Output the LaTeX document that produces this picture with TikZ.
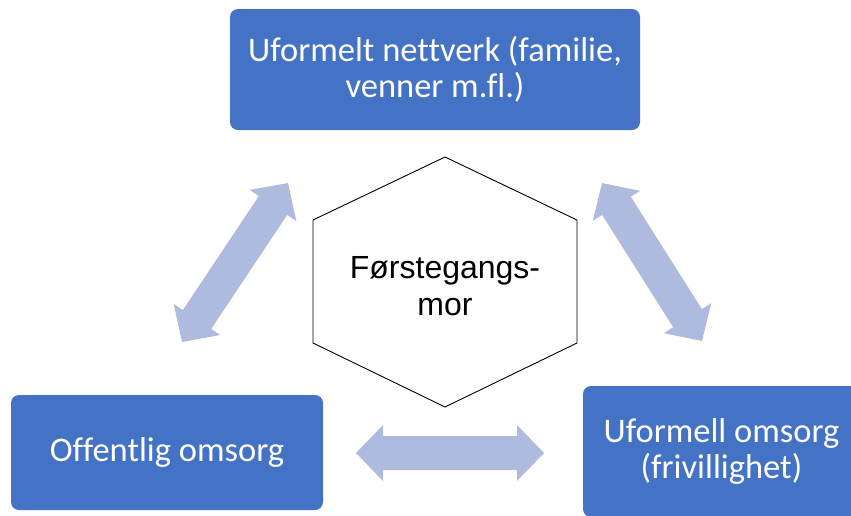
\documentclass[tikz,border=0pt]{standalone}
\usepackage{fontspec}
\setmainfont[Ligatures={NoCommon}]{Carlito}
\newfontfamily\hexfont{Liberation Sans}
\usetikzlibrary{calc}
\definecolor{boxblue}{HTML}{4472C4}
\definecolor{arrowfill}{HTML}{AFBBDE}
% wide double-headed block arrow between two named points
\newcommand\blockarrow[2]{%
  \fill[arrowfill] (#1)
    -- ($(#1)!27pt!(#2)!28pt!90:(#2)$)
    -- ($(#1)!27pt!(#2)!17pt!90:(#2)$)
    -- ($(#2)!27pt!(#1)!17pt!-90:(#1)$)
    -- ($(#2)!27pt!(#1)!28pt!-90:(#1)$)
    -- (#2)
    -- ($(#2)!27pt!(#1)!28pt!90:(#1)$)
    -- ($(#2)!27pt!(#1)!17pt!90:(#1)$)
    -- ($(#1)!27pt!(#2)!17pt!-90:(#2)$)
    -- ($(#1)!27pt!(#2)!28pt!-90:(#2)$)
    -- cycle;}
\begin{document}
\begin{tikzpicture}[x=1pt,y=1pt,
  box/.style={fill=boxblue, rounded corners=8pt, text=white, align=center,
    inner sep=0pt, font=\fontsize{34.5}{36}\selectfont},
  hexline/.style={draw=black, line width=0.9pt, line join=miter}]
\useasboundingbox (0,0) rectangle (851,-515);
\clip (0,0) rectangle (851,-515);

% the three actor boxes
\node[box, minimum width=410pt, minimum height=121pt] (nett) at (435,-69.5)
  {Uformelt nettverk (familie,\\venner m.fl.)};
\node[box, minimum width=312pt, minimum height=115pt] (off) at (167,-452.5)
  {Offentlig omsorg};
\node[box, minimum width=277pt, minimum height=131pt] (frivillig) at (721.5,-451.5)
  {Uformell omsorg\\(frivillighet)};

% central hexagon
\coordinate (h1) at (445,-157);
\coordinate (h2) at (577,-220);
\coordinate (h3) at (577,-343);
\coordinate (h4) at (445,-407);
\coordinate (h5) at (313,-343);
\coordinate (h6) at (313,-220);
\draw[hexline] (h1) -- (h2) -- (h3) -- (h4) -- (h5) -- (h6) -- cycle;
\node[align=center, inner sep=0pt, font=\hexfont\fontsize{32}{37}\selectfont] (mor)
  at (445,-286) {Førstegangs-\\mor};

% block arrows between the boxes
\coordinate (la) at (182,-342);
\coordinate (lb) at (288,-183);
\coordinate (ra) at (602,-183);
\coordinate (rb) at (702,-341);
\coordinate (ba) at (356,-453);
\coordinate (bb) at (544,-453);
\blockarrow{la}{lb}
\blockarrow{ra}{rb}
\blockarrow{ba}{bb}
\end{tikzpicture}
\end{document}
